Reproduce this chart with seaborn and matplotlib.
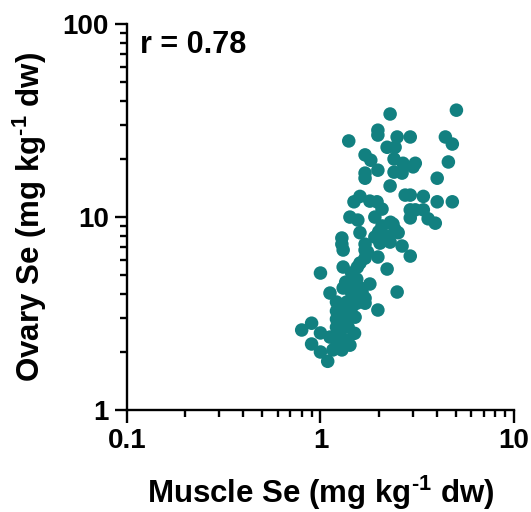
import seaborn as sns
import pandas as pd
import matplotlib.pyplot as plt
from matplotlib.ticker import LogLocator, NullFormatter

# muscle vs ovary Se (mg/kg dw)
muscle = [5.04, 2.29, 1.98, 1.98, 1.40, 2.49, 2.91, 4.42, 4.80, 2.21,
          2.43, 1.70, 1.82, 2.40, 2.67, 3.09, 3.01, 4.58, 1.70, 1.70,
          1.98, 2.40, 2.64, 4.01, 2.29, 2.74, 2.91, 3.40, 1.60, 1.49,
          1.80, 1.96, 4.01, 4.80, 2.08, 2.91, 3.09, 3.40, 1.42, 1.56,
          1.91, 2.91, 3.60, 3.92, 2.08, 2.37, 2.43, 1.60, 1.91, 2.21,
          2.52, 1.29, 1.29, 1.70, 2.03, 2.29, 2.64, 1.70, 2.91, 1.98,
          1.70, 1.60, 1.31, 2.21, 1.00, 1.45, 1.54, 1.80, 1.31, 1.12,
          1.45, 1.64, 2.49, 1.70, 1.21, 1.37, 1.54, 1.98, 1.21, 1.42,
          1.51, 1.21, 1.34, 1.21, 1.39, 0.90, 0.80, 1.00, 1.12, 1.26,
          1.34, 1.21, 1.42, 0.90, 1.00, 1.16, 1.29, 1.09, 1.31, 1.47,
          1.70, 1.51, 1.35, 1.55, 1.45, 1.30, 1.25, 1.60, 1.75, 2.00,
          2.30, 1.50]
ovary = [35.8, 34.2, 28.2, 26.6, 24.8, 26.0, 26.0, 26.0, 23.9, 23.0,
         23.0, 21.0, 19.7, 20.0, 19.0, 19.0, 18.2, 19.3, 16.9, 15.9,
         17.5, 17.1, 16.9, 15.9, 14.5, 13.0, 13.0, 12.8, 12.8, 12.0,
         12.1, 12.0, 12.0, 12.0, 11.0, 10.9, 10.9, 10.9, 10.0, 9.65,
         10.0, 9.9, 9.8, 9.3, 9.0, 9.2, 8.6, 8.3, 7.88, 7.97,
         8.3, 7.79, 7.24, 7.24, 7.33, 7.42, 7.08, 6.75, 6.28, 6.21,
         6.13, 5.78, 5.51, 5.38, 5.13, 5.13, 4.77, 4.50, 4.29, 4.04,
         4.04, 4.09, 4.09, 3.80, 3.63, 3.63, 3.58, 3.30, 3.26, 3.30,
         3.03, 2.96, 2.89, 2.69, 2.69, 2.82, 2.60, 2.51, 2.39, 2.45,
         2.31, 2.15, 2.17, 2.20, 2.00, 2.05, 2.05, 1.79, 6.75, 3.80,
         3.58, 4.55, 4.60, 5.50, 3.40, 3.20, 2.30, 4.30, 6.60, 8.40,
         9.40, 2.50]

df = pd.DataFrame({"muscle": muscle, "ovary": ovary})

sns.set_style("ticks")
plt.rcParams['font.family'] = ['Liberation Sans', 'DejaVu Sans']
plt.rcParams['font.weight'] = 'bold'
plt.rcParams['text.color'] = 'black'
plt.rcParams['axes.labelcolor'] = 'black'
plt.rcParams['xtick.color'] = 'black'
plt.rcParams['ytick.color'] = 'black'
plt.rcParams['mathtext.fontset'] = 'custom'
plt.rcParams['mathtext.rm'] = 'Liberation Sans:bold'
plt.rcParams['mathtext.default'] = 'rm'

fig = plt.figure(figsize=(5.31, 5.12), dpi=100)
ax = fig.add_axes([0.239, 0.199, 0.729, 0.754])
sns.scatterplot(data=df, x="muscle", y="ovary", color="#128080", s=95,
                edgecolor="none", linewidth=0, ax=ax)

ax.set_xscale("log")
ax.set_yscale("log")
ax.set_xlim(0.1, 10)
ax.set_ylim(1, 100)
ax.set_xticks([0.1, 1, 10])
ax.set_xticklabels(["0.1", "1", "10"])
ax.set_yticks([1, 10, 100])
ax.set_yticklabels(["1", "10", "100"])
ax.xaxis.set_minor_locator(LogLocator(base=10, subs=range(2, 10)))
ax.yaxis.set_minor_locator(LogLocator(base=10, subs=range(2, 10)))
ax.xaxis.set_minor_formatter(NullFormatter())
ax.yaxis.set_minor_formatter(NullFormatter())

sns.despine(ax=ax)
for s in ["left", "bottom"]:
    ax.spines[s].set_linewidth(1.7)
    ax.spines[s].set_color("black")
ax.tick_params(which="major", length=9, width=1.7, labelsize=20, pad=4)
ax.tick_params(which="minor", length=5, width=1.7)
for lab in ax.get_xticklabels() + ax.get_yticklabels():
    lab.set_fontweight("bold")

ax.set_xlabel("Muscle Se (mg kg$^{\\text{-1}}$ dw)", fontsize=22.5, fontweight="bold", labelpad=14)
ax.set_ylabel("Ovary Se (mg kg$^{\\text{-1}}$ dw)", fontsize=22.5, fontweight="bold", labelpad=10)
ax.text(0.035, 0.985, "r = 0.78", transform=ax.transAxes, ha="left", va="top",
        fontsize=22, fontweight="bold")

fig.savefig("out.png", dpi=100)
